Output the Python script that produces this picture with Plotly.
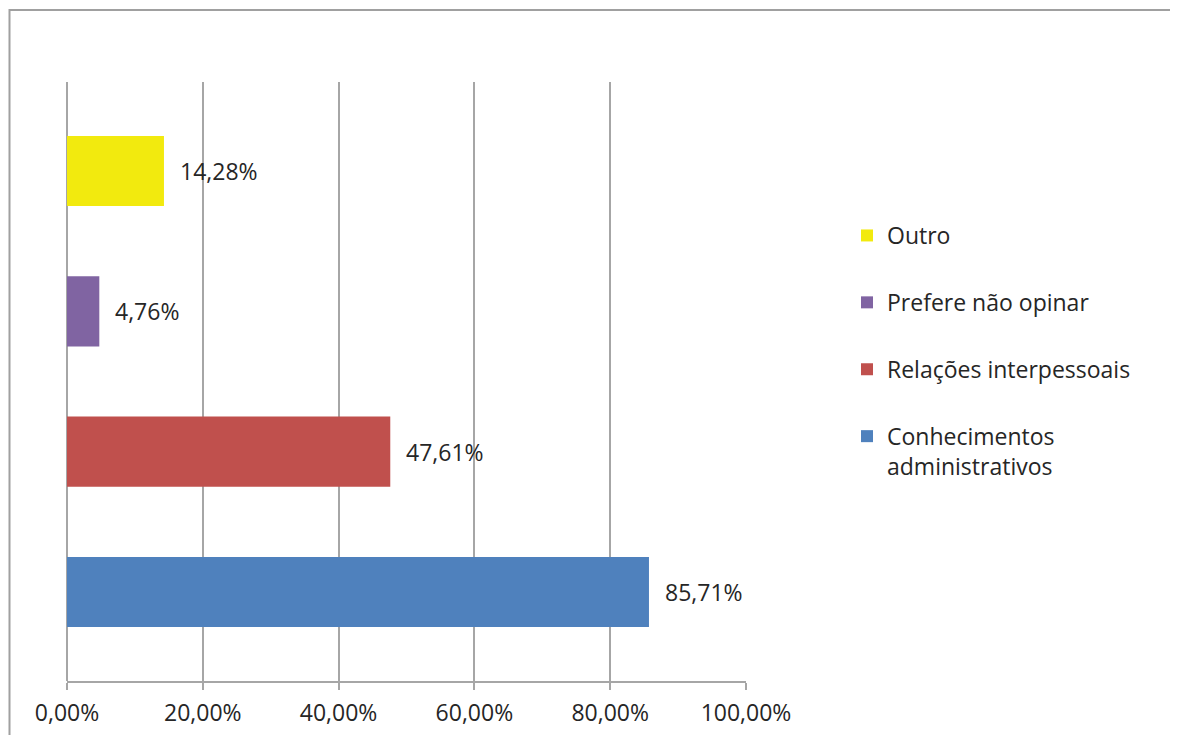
import plotly.graph_objects as go

categories = ["Conhecimentos administrativos", "Relações interpessoais", "Prefere não opinar", "Outro"]
legend_names = ["Conhecimentos<br>administrativos", "Relações interpessoais", "Prefere não opinar", "Outro"]
values = [85.71, 47.61, 4.76, 14.28]
labels = ["85,71%", "47,61%", "4,76%", "14,28%"]
colors = ["#4F81BD", "#C0504D", "#8064A2", "#F2EA0E"]
tick_vals = [0, 20, 40, 60, 80, 100]
tick_text = ["0,00%", "20,00%", "40,00%", "60,00%", "80,00%", "100,00%"]

FONT = "Open Sans"
FS = 23
TXT = "#262626"
GRID = "#A6A6A6"

fig = go.Figure()
n = len(categories)
for i, (cat, nm, v, c) in enumerate(zip(categories, legend_names, values, colors)):
    fig.add_trace(go.Bar(
        x=[v], y=[cat], orientation="h", name=nm,
        marker=dict(color=c, line=dict(width=0)),
        width=0.5, legendgroup=f"g{i}", legendrank=n - i, hoverinfo="skip",
    ))
    fig.add_annotation(x=v, y=cat, text=labels[i], showarrow=False,
                       xanchor="left", xshift=14, yshift=0,
                       font=dict(family=FONT, size=FS, color=TXT))

OFF = 8  # page body margin
W, H = 1178 - OFF, 735 - OFF
L, R, T, B = 67 - OFF, 746 - OFF, 82 - OFF, 681 - OFF
pw, ph = R - L, B - T
def px(x): return (x - OFF - L) / pw
def py(y): return (B - (y - OFF)) / ph

fig.add_shape(type="rect", xref="paper", yref="paper",
              x0=px(9.5), x1=px(1200), y0=py(760), y1=py(10),
              line=dict(color="#A0A0A0", width=2), fillcolor="rgba(0,0,0,0)", layer="below")

fig.update_layout(
    width=W, height=H,
    margin=dict(l=L, r=W - R, t=T, b=H - B, pad=0, autoexpand=False),
    paper_bgcolor="white", plot_bgcolor="white",
    barmode="overlay",
    showlegend=True,
    legend=dict(x=px(847), y=py(214), xanchor="left", yanchor="top",
                traceorder="grouped", tracegroupgap=34, valign="top",
                font=dict(family=FONT, size=FS, color=TXT),
                itemwidth=30, bgcolor="rgba(0,0,0,0)"),
    font=dict(family=FONT, size=FS, color=TXT),
    xaxis=dict(range=[0, 100], tickvals=tick_vals, ticktext=tick_text,
               showgrid=True, gridcolor=GRID, gridwidth=1.5,
               zeroline=True, zerolinecolor=GRID, zerolinewidth=1.5,
               showline=True, linecolor=GRID, linewidth=1.5,
               ticks="outside", ticklen=7, tickcolor=GRID, tickwidth=1.5,
               ticklabelstandoff=4, automargin=False,
               tickfont=dict(family=FONT, size=FS, color=TXT), fixedrange=True),
    yaxis=dict(categoryorder="array", categoryarray=categories,
               range=[-0.634, 3.634], showticklabels=False, showgrid=False,
               zeroline=False, showline=False, ticks="", fixedrange=True,
               automargin=False),
)

fig.write_html("out.html")
